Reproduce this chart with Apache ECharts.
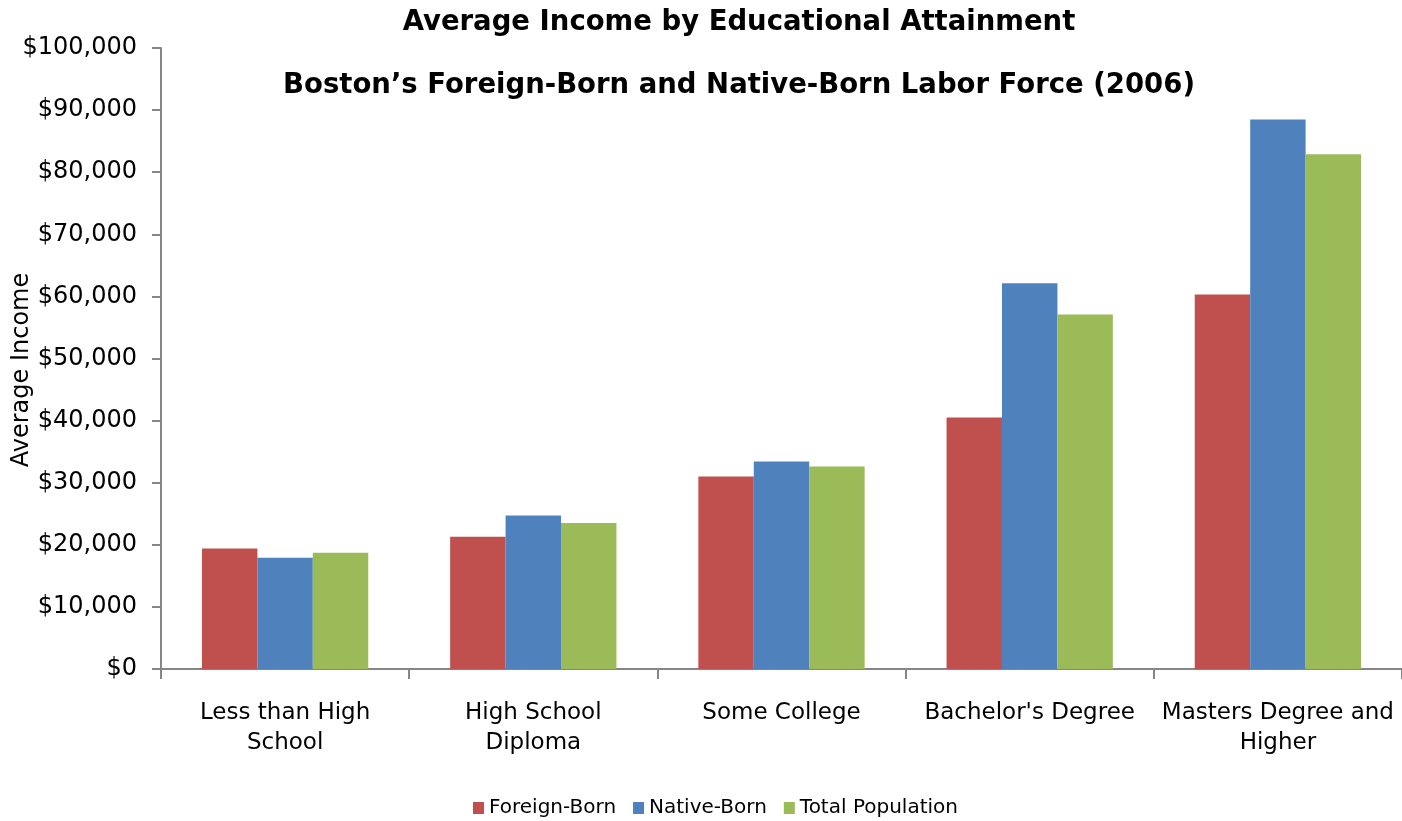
<!DOCTYPE html>
<html>
<head>
<meta charset="utf-8">
<title>Average Income by Educational Attainment</title>
<script src="https://cdn.jsdelivr.net/npm/echarts@6/dist/echarts.min.js"></script>
<style>
  html, body { margin: 0; padding: 0; background: #ffffff; }
  #chart { width: 1402px; height: 821px; }
</style>
</head>
<body>
<div id="chart"></div>
<script>
// Education levels along the category axis
const categories = [
  'Less than High\nSchool',
  'High School\nDiploma',
  'Some College',
  "Bachelor's Degree",
  'Masters Degree and\nHigher'
];

// Average income (USD) by group
const foreignBorn = [19400, 21300, 31000, 40500, 60300];
const nativeBorn = [17900, 24700, 33400, 62100, 88500];
const totalPopulation = [18700, 23500, 32600, 57100, 82900];

const seriesNames = ['Foreign-Born', 'Native-Born', 'Total Population'];
const seriesColors = ['#C0504D', '#4F81BD', '#9BBB59'];

// Value axis range
const yMin = 0;
const yMax = 100000;
const yStep = 10000;

const titleLine1 = 'Average Income by Educational Attainment';
const titleLine2 = 'Boston\u2019s Foreign-Born and Native-Born Labor Force (2006)';
const yAxisTitle = 'Average Income';

const FONT = '"DejaVu Sans", "Liberation Sans", Arial, sans-serif';
const AXIS_GRAY = '#868686';

const chart = echarts.init(document.getElementById('chart'), null, { renderer: 'canvas' });

const values = [foreignBorn, nativeBorn, totalPopulation];

chart.setOption({
  backgroundColor: '#ffffff',
  animation: false,
  textStyle: { fontFamily: FONT },
  graphic: [
    {
      type: 'text', x: 739, y: 23,
      style: {
        text: titleLine1, fontFamily: FONT, fontSize: 27.5, fontWeight: 'bold',
        fill: '#000', align: 'center', verticalAlign: 'middle'
      }
    },
    {
      type: 'text', x: 739, y: 86,
      style: {
        text: titleLine2, fontFamily: FONT, fontSize: 27.5, fontWeight: 'bold',
        fill: '#000', align: 'center', verticalAlign: 'middle'
      }
    },
    {
      type: 'text', x: 22, y: 370, rotation: Math.PI / 2,
      style: {
        text: yAxisTitle, fontFamily: FONT, fontSize: 24,
        fill: '#000', align: 'center', verticalAlign: 'middle'
      }
    }
  ],
  legend: {
    data: seriesNames,
    left: 473,
    top: 798,
    padding: 0,
    icon: 'rect',
    itemWidth: 11,
    itemHeight: 12,
    itemGap: 17,
    textStyle: { fontFamily: FONT, fontSize: 20, color: '#000' }
  },
  grid: {
    left: 161,
    right: 0,
    top: 48,
    bottom: 152,
    containLabel: false
  },
  xAxis: {
    type: 'category',
    data: categories,
    boundaryGap: true,
    axisLine: { show: true, lineStyle: { color: AXIS_GRAY, width: 2 } },
    axisTick: { show: true, length: 10, lineStyle: { color: AXIS_GRAY, width: 2 } },
    axisLabel: {
      fontFamily: FONT, fontSize: 23, color: '#000',
      lineHeight: 30, margin: 29, interval: 0
    },
    splitLine: { show: false }
  },
  yAxis: {
    type: 'value',
    min: yMin,
    max: yMax,
    interval: yStep,
    axisLine: { show: true, lineStyle: { color: AXIS_GRAY, width: 2 } },
    axisTick: { show: true, length: 9, lineStyle: { color: AXIS_GRAY, width: 2 } },
    axisLabel: {
      fontFamily: FONT, fontSize: 24, color: '#000', margin: 24,
      formatter: v => '$' + v.toLocaleString('en-US')
    },
    splitLine: { show: false }
  },
  series: seriesNames.map((name, i) => ({
    name: name,
    type: 'bar',
    data: values[i],
    barGap: '0%',
    barCategoryGap: '33%',
    itemStyle: { color: seriesColors[i] }
  }))
});
</script>
</body>
</html>
